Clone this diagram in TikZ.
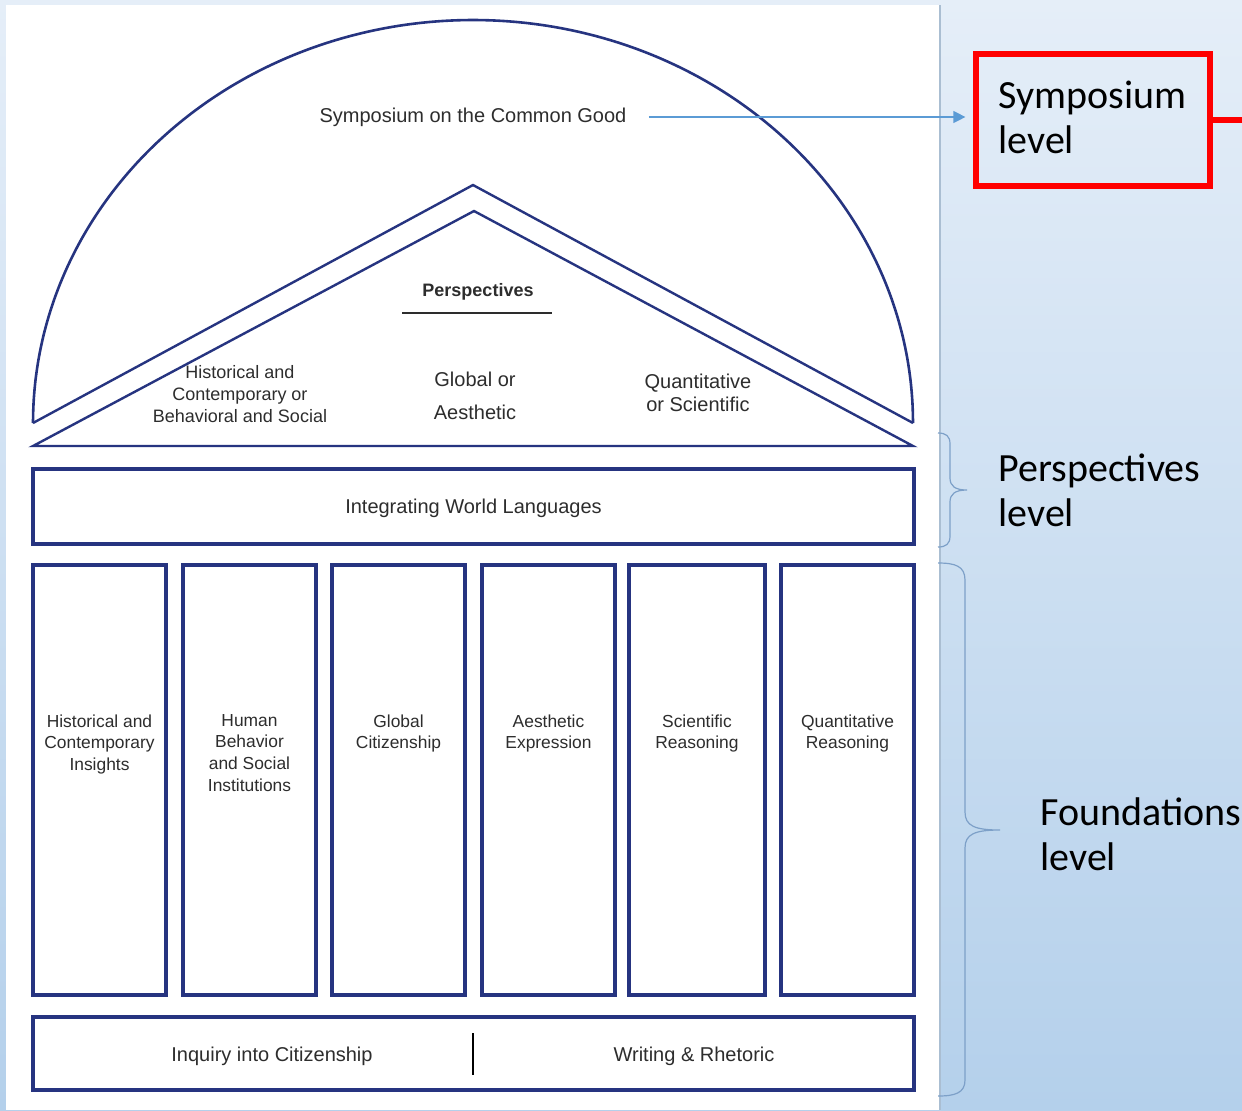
\documentclass[tikz,border=0pt]{standalone}
\usepackage{fontspec}
\setmainfont{Liberation Sans}
\newfontfamily\calib{Carlito}
\usetikzlibrary{arrows.meta}
\definecolor{navy}{RGB}{38,52,128}
\definecolor{txt}{RGB}{45,45,45}
\definecolor{bgtop}{RGB}{229,238,248}
\definecolor{bgbot}{RGB}{180,208,235}
\definecolor{arrowblue}{RGB}{91,155,213}
\definecolor{bracecol}{RGB}{125,160,200}
\definecolor{panelline}{RGB}{170,190,210}
\tikzset{
  box/.style={draw=navy, line width=1.6pt, inner sep=0pt, outer sep=0pt},
  colbox/.style={box, minimum width=66.5pt, minimum height=215pt},
  lbl/.style={text=txt, font=\fontsize{10}{12}\selectfont, inner sep=0pt},
  trilbl/.style={text=txt, align=center, inner sep=0pt},
  coltxt/.style={text=txt, font=\fontsize{8.7}{10.8}\selectfont, align=center, inner sep=0pt, anchor=north},
  side/.style={font=\calib\fontsize{20}{22.5}\selectfont, align=left, inner sep=0pt, anchor=west},
  bracestyle/.style={draw=bracecol, line width=0.6pt},
}
\begin{document}
\begin{tikzpicture}[x=0.5pt,y=-0.5pt]
\useasboundingbox (0,0) rectangle (1242,1110);
% background
\shade[top color=bgtop, bottom color=bgbot] (0,0) rectangle (1242,1110);
\fill[white] (6,5) rectangle (940,1110);
\draw[panelline, line width=0.6pt] (940,5) -- (940,1110);

% dome
\draw[navy, line width=1.3pt] plot[domain=180:360, samples=120, smooth] ({473+440*cos(\x)},{423+403*sin(\x)});
\node[lbl] (symp) at (473,117) {Symposium on the Common Good};

% roof
\draw[navy, line width=1.2pt] (33,423) -- (473,185) -- (913,423);
\draw[navy, line width=1.2pt] (33,446) -- (474,211) -- (913,446) -- cycle;
\node[font=\bfseries\fontsize{9}{11}\selectfont, text=txt, inner sep=0pt] (persp) at (478,292) {Perspectives};
\draw[txt, line width=1pt] (402,313) -- (552,313);
\node[trilbl, font=\fontsize{9}{11}\selectfont] (tri1) at (240,394) {Historical and\\Contemporary or\\Behavioral and Social};
\node[trilbl, font=\fontsize{10}{16.5}\selectfont] (tri2) at (475,396) {Global or\\Aesthetic};
\node[trilbl, font=\fontsize{10}{11.5}\selectfont] (tri3) at (698,393) {Quantitative\\or Scientific};

% languages
\node[box, minimum width=440.5pt, minimum height=37.5pt, text=txt, text depth=0pt, font=\fontsize{10}{12}\selectfont] (iwl) at (473.5,506.5) {Integrating World Languages};

% columns
\node[colbox] (c1) at (99.5,780) {};
\node[colbox] (c2) at (249.5,780) {};
\node[colbox] (c3) at (398.5,780) {};
\node[colbox] (c4) at (548.5,780) {};
\node[colbox, minimum width=68pt] (c5) at (697,780) {};
\node[colbox] (c6) at (847.5,780) {};
\node[coltxt] (t1) at ([yshift=-74.5pt]c1.north) {Historical and\\Contemporary\\Insights};
\node[coltxt] (t2) at ([yshift=-74.5pt]c2.north) {Human\\Behavior\\and Social\\Institutions};
\node[coltxt] (t3) at ([yshift=-74.5pt]c3.north) {Global\\Citizenship};
\node[coltxt] (t4) at ([yshift=-74.5pt]c4.north) {Aesthetic\\Expression};
\node[coltxt] (t5) at ([yshift=-74.5pt]c5.north) {Scientific\\Reasoning};
\node[coltxt] (t6) at ([yshift=-74.5pt]c6.north) {Quantitative\\Reasoning};

% foundation base
\node[box, minimum width=440.5pt, minimum height=36.5pt] (found) at (473.5,1053.5) {};
\node[lbl] (inq) at (272,1056) {Inquiry into Citizenship};
\node[lbl] (wr) at (694,1056) {Writing \& Rhetoric};
\draw[black, line width=0.8pt] (473,1033) -- (473,1075);

% symposium level box
\node[draw=red, line width=2.6pt, minimum width=117pt, minimum height=66pt, inner sep=0pt] (symlevel) at (1093,120) {};
\node[side] (symtext) at (998,117) {Symposium\\level};
\coordinate (redend) at (1242,120);
\draw[red, line width=2.6pt] (symlevel.east) -- (redend);
\draw[arrowblue, line width=0.6pt, -{Triangle[length=6pt,width=6pt]}] ([shift={(22,0)}]symp.east) -- ([shift={(-8,-3)}]symlevel.west);

% side labels
\node[side] (plev) at (998,490) {Perspectives\\level};
\node[side] (flev) at (1040,834) {Foundations\\level};

% braces
\draw[bracestyle] (938,433) .. controls (946,433) and (950,436) .. (950,444) -- (950,478) .. controls (950,486) and (955,490) .. (967,490) .. controls (955,490) and (950,494) .. (950,502) -- (950,536) .. controls (950,544) and (946,547) .. (938,547);
\draw[bracestyle] (938,563) .. controls (955,563) and (965,566) .. (965,580) -- (965,812) .. controls (965,826) and (975,830) .. (1000,830) .. controls (975,830) and (965,834) .. (965,848) -- (965,1080) .. controls (965,1093) and (955,1096) .. (938,1096);
\end{tikzpicture}
\end{document}
